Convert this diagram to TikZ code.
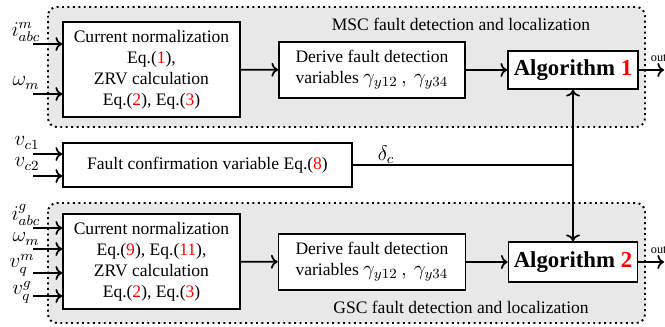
\documentclass[tikz,border=0pt]{standalone}
\usepackage[no-math]{fontspec}
\setmainfont{Liberation Serif}
\usepackage{amsmath}
\usepackage{xcolor}
\usetikzlibrary{arrows.meta}

\definecolor{panelgray}{RGB}{232,232,232}
\newcommand{\pu}{0.57pt}
\newcommand{\eqnum}[1]{Eq.(\textcolor{red}{#1})}

\tikzset{
    blk/.style={draw, fill=white, align=center, inner sep=1pt,
        font=\fontsize{10}{12}\selectfont},
    alg/.style={blk, font=\fontsize{13}{15}\selectfont\bfseries},
    panel/.style={draw, dotted, fill=panelgray, rounded corners=5pt, line width=1.1pt},
    sig/.style={font=\large, inner sep=0pt},
}

\begin{document}
\begin{tikzpicture}[x=\pu, y=-\pu, line width=1pt, >=To]
        \useasboundingbox (0,0) rectangle (665,326);
        % the two shaded regions
        \draw[panel] (48,7) rectangle (645,127);
        \draw[panel] (48,203) rectangle (645,323);
        \node[font=\fontsize{10}{12}\selectfont] (msc) at (461,24) {MSC fault detection and localization};
        \node[font=\fontsize{10}{12}\selectfont] (gsc) at (461,307) {GSC fault detection and localization};

        % MSC chain
        \node[blk, minimum width=177*\pu, minimum height=95*\pu] (cn1) at (151.5,69.5)
            {Current normalization\\ \eqnum{1},\\ ZRV calculation\\ \eqnum{2}, \eqnum{3}};
        \node[blk, align=left, minimum width=186*\pu, minimum height=56*\pu] (dv1) at (372,70)
            {Derive fault detection\\ variables {\large$\gamma_{y12}\,,\,\gamma_{y34}$}};
        \node[alg, minimum width=130*\pu, minimum height=38*\pu] (alg1) at (573,70)
            {Algorithm \textcolor{red}{1}};

        % fault confirmation
        \node[blk, minimum width=289*\pu, minimum height=44*\pu] (fc) at (207.5,165)
            {Fault confirmation variable \eqnum{8}};

        % GSC chain
        \node[blk, minimum width=177*\pu, minimum height=95*\pu] (cn2) at (151.5,261.5)
            {Current normalization\\ \eqnum{9}, \eqnum{11},\\ ZRV calculation\\ \eqnum{2}, \eqnum{3}};
        \node[blk, align=left, minimum width=187*\pu, minimum height=56*\pu] (dv2) at (372,262)
            {Derive fault detection\\ variables {\large$\gamma_{y12}\,,\,\gamma_{y34}$}};
        \node[alg, minimum width=129*\pu, minimum height=40*\pu] (alg2) at (573,262)
            {Algorithm \textcolor{red}{2}};

        % inputs
        \coordinate (im) at (33,44);
        \coordinate (wm) at (33,94);
        \coordinate (vc1) at (33,154);
        \coordinate (vc2) at (33,176);
        \coordinate (ig) at (33,228);
        \coordinate (wg) at (33,249);
        \coordinate (vqm) at (33,273);
        \coordinate (vqg) at (33,296);
        \node[sig] (lim) at (26,32) {$i_{abc}^{m}$};
        \node[sig] (lwm) at (26,83) {$\omega_m$};
        \node[sig] (lvc1) at (27,143) {$v_{c1}$};
        \node[sig] (lvc2) at (27,164) {$v_{c2}$};
        \node[sig] (lig) at (26,215) {$i_{abc}^{g}$};
        \node[sig] (lwg) at (26,239) {$\omega_m$};
        \node[sig] (lvqm) at (22,265) {$v_q^{m}$};
        \node[sig] (lvqg) at (22,292) {$v_q^{g}$};
        \foreach \s/\b in {im/cn1, wm/cn1, vc1/fc, vc2/fc, ig/cn2, wg/cn2, vqm/cn2, vqg/cn2}
            \draw[->] (\s) -- (\s -| \b.west);

        \draw[->] (cn1) -- (dv1);
        \draw[->] (dv1) -- (alg1);
        \draw[->] (cn2) -- (dv2);
        \draw[->] (dv2) -- (alg2);

        % confirmation signal to both algorithms
        \coordinate (dc) at (alg1.south |- fc.east);
        \draw (fc.east) -- (dc);
        \draw[->] (dc) -- (alg1.south);
        \draw[->] (dc) -- (alg2.north);
        \node[sig] (ldc) at (386,155) {$\delta_c$};

        % outputs
        \coordinate (o1) at (664,70);
        \coordinate (o2) at (664,262);
        \draw[->] (alg1) -- (o1);
        \draw[->] (alg2) -- (o2);
        \node[font=\scriptsize, anchor=west, inner sep=0pt] (out1) at (650,58) {out};
        \node[font=\scriptsize, anchor=west, inner sep=0pt] (out2) at (650,250) {out};
\end{tikzpicture}
\end{document}
